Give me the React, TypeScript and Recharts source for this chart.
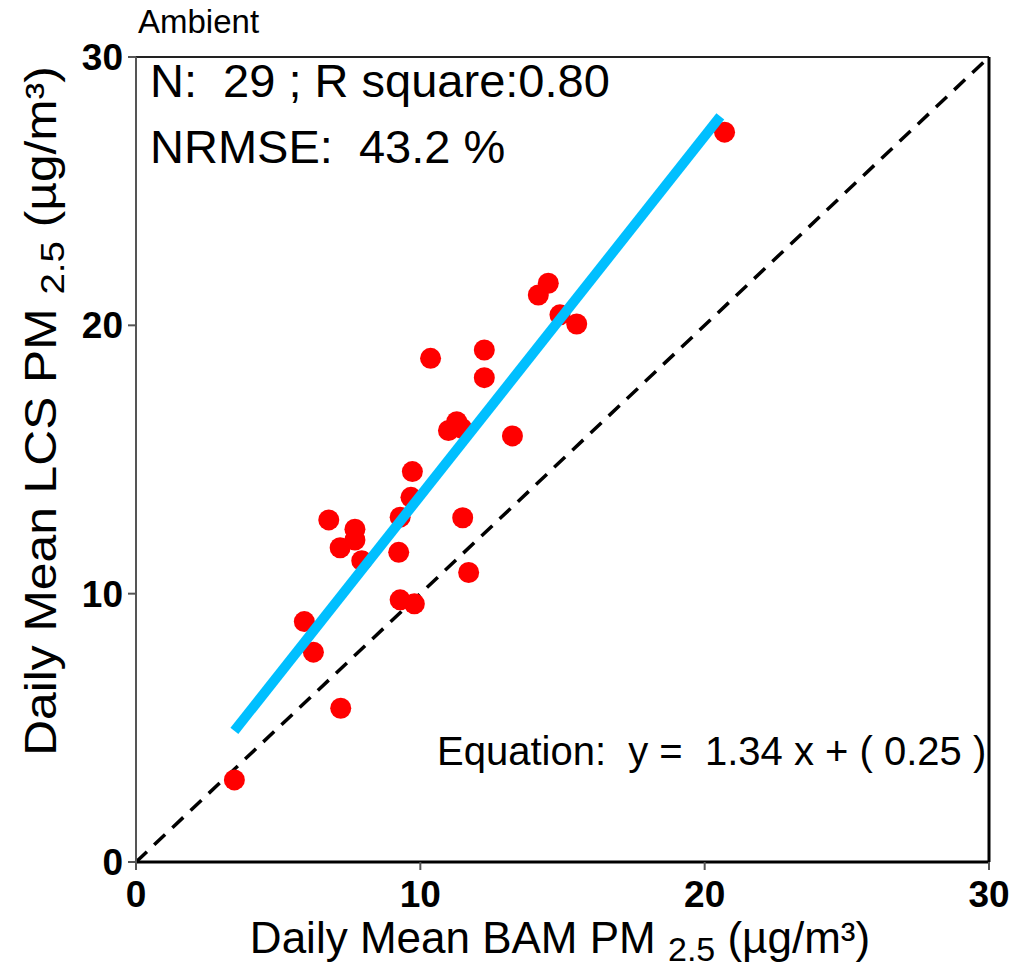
import { ComposedChart, ReferenceLine, Scatter, XAxis, YAxis } from "recharts";

// daily means (µg/m³)
const bamPm25 = [
  3.46, 5.92, 6.24, 7.2, 6.78, 7.18, 7.7, 7.7, 7.94, 9.24, 9.29, 9.29, 9.79, 9.67, 9.72,
  10.36, 10.99, 11.28, 11.46, 11.49, 11.7, 12.25, 12.25, 13.24, 14.15, 14.5, 14.91, 15.5, 20.7,
];
const lcsPm25 = [
  3.06, 8.96, 7.82, 5.73, 12.75, 11.71, 12.4, 12.0, 11.23, 11.54, 12.85, 9.77, 9.62, 13.59, 14.55,
  18.77, 16.08, 16.41, 16.16, 12.83, 10.79, 19.08, 18.05, 15.88, 21.13, 21.57, 20.39, 20.05, 27.2,
];
const axisTicks = [0, 10, 20, 30];
const fitSlope = 1.34;
const fitIntercept = 0.25;
const fitXRange = [3.46, 20.55];

const FONT = "'Liberation Sans', Arial, sans-serif";
const pre = { whiteSpace: "pre" } as const;

const points = bamPm25.map((x, i) => ({ x, y: lcsPm25[i] }));
const fitPoints = fitXRange.map((x) => ({ x, y: fitSlope * x + fitIntercept }));

const Dot = (props: any) => <circle cx={props.cx} cy={props.cy} r={10.5} fill="#FF0000" />;

export default function App() {
  return (
    <div style={{ position: "absolute", left: 0, top: 0, width: 1021, height: 970, background: "#fff" }}>
      <ComposedChart width={1021} height={970} margin={{ top: 57, right: 32, bottom: 48, left: 60 }}>
        <XAxis
          type="number"
          dataKey="x"
          domain={[0, 30]}
          ticks={axisTicks}
          allowDataOverflow
          height={60}
          axisLine={{ stroke: "#000", strokeWidth: 3 }}
          tickLine={{ stroke: "#555", strokeWidth: 2 }}
          tickSize={8}
          tickMargin={11}
          tick={{ fontSize: 37, fontWeight: 700, fill: "#000", fontFamily: FONT }}
        />
        <YAxis
          type="number"
          dataKey="y"
          domain={[0, 30]}
          ticks={axisTicks}
          allowDataOverflow
          width={76}
          axisLine={{ stroke: "#555", strokeWidth: 2 }}
          tickLine={{ stroke: "#555", strokeWidth: 2 }}
          tickSize={8}
          tickMargin={5}
          tick={{ fontSize: 37, fontWeight: 700, fill: "#000", fontFamily: FONT }}
        />
        <ReferenceLine y={30} stroke="#222" strokeWidth={2} />
        <ReferenceLine x={30} stroke="#000" strokeWidth={3} />
        <ReferenceLine
          segment={[
            { x: 0, y: 0 },
            { x: 30, y: 30 },
          ]}
          stroke="#000"
          strokeWidth={3.5}
          strokeDasharray="15 10"
        />
        <Scatter data={points} shape={Dot} isAnimationActive={false} />
        <Scatter
          data={fitPoints}
          line={{ stroke: "#00BFFF", strokeWidth: 10 }}
          shape={() => null}
          isAnimationActive={false}
        />
      </ComposedChart>
      <svg
        width={1021}
        height={970}
        style={{ position: "absolute", left: 0, top: 0, pointerEvents: "none" }}
        fontFamily={FONT}
      >
        <text x={138} y={33} fontSize={33} style={pre}>Ambient</text>
        <text x={150} y={97} fontSize={47} style={pre}>N:  29 ; R square:0.80</text>
        <text x={150} y={163} fontSize={47} style={pre}>NRMSE:  43.2 %</text>
        <text x={437} y={765} fontSize={40} style={pre}>Equation:  y =  1.34 x + ( 0.25 )</text>
        <text x={560} y={953} fontSize={44} textAnchor="middle" style={pre}>
          Daily Mean BAM PM <tspan fontSize={34} dy={8}>2.5</tspan>
          <tspan dy={-8}> (µg/m³)</tspan>
        </text>
        <text transform="translate(56,411) rotate(-90) scale(1.13,1)" fontSize={44} textAnchor="middle" style={pre}>
          Daily Mean LCS PM <tspan fontSize={34} dy={8}>2.5</tspan>
          <tspan dy={-8}> (µg/m³)</tspan>
        </text>
      </svg>
    </div>
  );
}
